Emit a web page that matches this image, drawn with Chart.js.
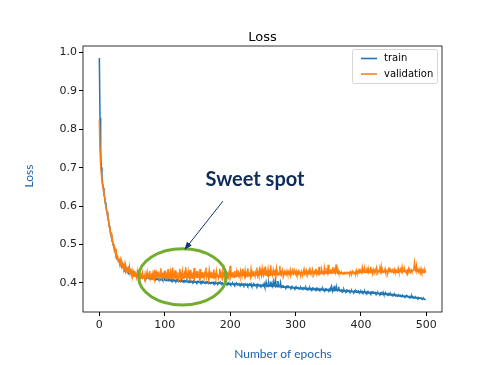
<!DOCTYPE html>
<html>
<head>
<meta charset="utf-8">
<script src="https://cdn.jsdelivr.net/npm/chart.js@4.4.1/dist/chart.umd.min.js"></script>
<style>
  body { margin: 0; background: #fff; }
  canvas { display: block; }
</style>
</head>
<body>
<canvas id="loss-chart" width="493" height="365"></canvas>
<script>
// values, one per epoch (0..499)
const trainLoss = [
  0.985,0.830,0.742,0.701,0.677,0.659,0.648,0.632,0.623,0.610,
  0.603,0.590,0.582,0.569,0.562,0.549,0.543,0.531,0.525,0.514,
  0.510,0.500,0.496,0.487,0.484,0.476,0.474,0.466,0.466,0.459,
  0.459,0.452,0.453,0.447,0.448,0.442,0.445,0.439,0.441,0.435,
  0.438,0.432,0.435,0.430,0.433,0.428,0.431,0.426,0.429,0.424,
  0.427,0.423,0.425,0.421,0.424,0.420,0.422,0.419,0.421,0.418,
  0.420,0.417,0.419,0.416,0.418,0.415,0.417,0.415,0.416,0.414,
  0.416,0.413,0.415,0.413,0.414,0.412,0.414,0.412,0.413,0.411,
  0.413,0.411,0.412,0.410,0.413,0.410,0.411,0.409,0.412,0.410,
  0.411,0.409,0.411,0.408,0.410,0.409,0.411,0.408,0.410,0.408,
  0.410,0.407,0.409,0.408,0.410,0.406,0.409,0.407,0.408,0.406,
  0.409,0.406,0.408,0.405,0.408,0.406,0.407,0.405,0.408,0.405,
  0.407,0.404,0.407,0.405,0.406,0.404,0.407,0.404,0.406,0.404,
  0.406,0.403,0.405,0.404,0.406,0.403,0.405,0.403,0.405,0.402,
  0.405,0.403,0.404,0.402,0.405,0.402,0.404,0.402,0.403,0.401,
  0.404,0.401,0.403,0.402,0.404,0.401,0.403,0.400,0.403,0.401,
  0.402,0.400,0.402,0.401,0.403,0.400,0.401,0.399,0.402,0.400,
  0.401,0.399,0.401,0.400,0.402,0.399,0.401,0.398,0.401,0.399,
  0.400,0.398,0.401,0.399,0.400,0.398,0.400,0.397,0.400,0.398,
  0.399,0.397,0.400,0.398,0.399,0.397,0.399,0.396,0.399,0.397,
  0.399,0.396,0.398,0.397,0.399,0.396,0.398,0.395,0.398,0.396,
  0.398,0.395,0.397,0.396,0.398,0.395,0.397,0.394,0.397,0.395,
  0.397,0.394,0.397,0.395,0.396,0.394,0.397,0.393,0.396,0.394,
  0.396,0.394,0.398,0.393,0.395,0.393,0.396,0.393,0.395,0.393,
  0.395,0.392,0.396,0.393,0.394,0.392,0.395,0.392,0.394,0.392,
  0.394,0.392,0.398,0.391,0.393,0.402,0.392,0.394,0.391,0.400,
  0.392,0.393,0.404,0.391,0.395,0.391,0.403,0.392,0.392,0.406,
  0.391,0.393,0.390,0.405,0.391,0.392,0.390,0.401,0.391,0.390,
  0.392,0.389,0.391,0.389,0.390,0.388,0.391,0.388,0.390,0.388,
  0.390,0.388,0.389,0.387,0.390,0.387,0.389,0.387,0.388,0.386,
  0.389,0.386,0.388,0.386,0.388,0.386,0.387,0.385,0.388,0.385,
  0.387,0.385,0.387,0.385,0.386,0.384,0.388,0.384,0.386,0.384,
  0.386,0.384,0.387,0.383,0.385,0.383,0.386,0.383,0.385,0.383,
  0.385,0.383,0.386,0.382,0.384,0.382,0.385,0.382,0.384,0.382,
  0.384,0.382,0.385,0.381,0.383,0.381,0.384,0.381,0.383,0.381,
  0.383,0.381,0.384,0.380,0.388,0.392,0.382,0.381,0.386,0.380,
  0.393,0.382,0.381,0.387,0.380,0.382,0.390,0.380,0.381,0.379,
  0.382,0.379,0.381,0.378,0.383,0.379,0.380,0.378,0.381,0.378,
  0.380,0.378,0.380,0.377,0.379,0.377,0.380,0.377,0.378,0.376,
  0.379,0.377,0.379,0.376,0.378,0.376,0.379,0.376,0.377,0.375,
  0.378,0.375,0.378,0.375,0.377,0.375,0.378,0.374,0.376,0.374,
  0.377,0.374,0.376,0.374,0.376,0.373,0.376,0.373,0.375,0.373,
  0.375,0.373,0.375,0.372,0.374,0.372,0.375,0.372,0.373,0.371,
  0.374,0.371,0.373,0.371,0.376,0.371,0.372,0.370,0.373,0.370,
  0.372,0.370,0.372,0.369,0.371,0.369,0.371,0.368,0.370,0.368,
  0.370,0.368,0.370,0.367,0.369,0.367,0.368,0.366,0.368,0.366,
  0.368,0.366,0.367,0.365,0.367,0.365,0.366,0.364,0.366,0.364,
  0.366,0.364,0.365,0.363,0.365,0.363,0.365,0.362,0.366,0.362,
  0.364,0.362,0.363,0.361,0.363,0.361,0.362,0.360,0.362,0.360,
  0.361,0.360,0.361,0.359,0.360,0.358,0.360,0.358,0.358,0.356
];

const validationLoss = [
  0.825,0.745,0.706,0.683,0.667,0.652,0.646,0.628,0.627,0.607,
  0.607,0.588,0.586,0.566,0.566,0.547,0.548,0.529,0.530,0.512,
  0.514,0.498,0.501,0.485,0.489,0.474,0.480,0.464,0.471,0.456,
  0.464,0.450,0.459,0.444,0.455,0.440,0.451,0.436,0.447,0.432,
  0.445,0.428,0.441,0.430,0.437,0.426,0.440,0.424,0.435,0.422,
  0.432,0.420,0.428,0.418,0.431,0.417,0.426,0.416,0.429,0.414,
  0.424,0.413,0.427,0.415,0.421,0.412,0.425,0.413,0.420,0.411,
  0.423,0.412,0.419,0.428,0.411,0.420,0.414,0.431,0.412,0.418,
  0.425,0.410,0.421,0.415,0.434,0.412,0.419,0.426,0.411,0.423,
  0.416,0.430,0.412,0.421,0.438,0.413,0.418,0.427,0.412,0.424,
  0.414,0.432,0.411,0.420,0.415,0.436,0.412,0.423,0.418,0.429,
  0.411,0.421,0.440,0.414,0.419,0.426,0.412,0.433,0.415,0.420,
  0.428,0.411,0.418,0.437,0.413,0.422,0.416,0.430,0.412,0.419,
  0.425,0.414,0.441,0.415,0.420,0.413,0.429,0.417,0.412,0.434,
  0.416,0.421,0.413,0.427,0.418,0.439,0.414,0.420,0.425,0.413,
  0.431,0.415,0.419,0.412,0.436,0.416,0.422,0.414,0.428,0.418,
  0.413,0.425,0.419,0.440,0.415,0.420,0.427,0.413,0.432,0.417,
  0.422,0.414,0.429,0.418,0.413,0.435,0.416,0.421,0.414,0.430,
  0.417,0.424,0.413,0.419,0.437,0.415,0.422,0.416,0.428,0.414,
  0.420,0.433,0.416,0.423,0.415,0.429,0.418,0.425,0.417,0.421,
  0.445,0.418,0.424,0.416,0.428,0.419,0.415,0.431,0.420,0.417,
  0.426,0.418,0.433,0.419,0.423,0.416,0.430,0.421,0.417,0.436,
  0.420,0.425,0.418,0.432,0.419,0.424,0.417,0.438,0.421,0.419,
  0.428,0.418,0.435,0.420,0.425,0.419,0.431,0.422,0.418,0.427,
  0.421,0.440,0.420,0.426,0.419,0.433,0.422,0.428,0.420,0.437,
  0.423,0.419,0.431,0.421,0.443,0.420,0.427,0.422,0.435,0.421,
  0.428,0.420,0.446,0.422,0.426,0.420,0.433,0.423,0.421,0.430,
  0.423,0.437,0.421,0.428,0.424,0.422,0.444,0.423,0.427,0.421,
  0.432,0.424,0.422,0.429,0.423,0.426,0.422,0.431,0.424,0.423,
  0.427,0.423,0.433,0.422,0.428,0.424,0.438,0.423,0.425,0.429,
  0.424,0.431,0.423,0.427,0.422,0.435,0.424,0.426,0.423,0.430,
  0.425,0.423,0.429,0.436,0.424,0.427,0.423,0.432,0.425,0.424,
  0.430,0.424,0.440,0.425,0.428,0.423,0.434,0.426,0.424,0.429,
  0.425,0.437,0.424,0.430,0.426,0.424,0.442,0.425,0.428,0.424,
  0.433,0.425,0.427,0.424,0.439,0.426,0.429,0.425,0.431,0.426,
  0.447,0.427,0.430,0.425,0.436,0.427,0.426,0.441,0.428,0.426,
  0.432,0.427,0.448,0.428,0.426,0.434,0.427,0.429,0.426,0.427,
  0.425,0.427,0.424,0.426,0.425,0.427,0.424,0.426,0.425,0.428,
  0.426,0.425,0.427,0.424,0.429,0.426,0.425,0.430,0.426,0.427,
  0.425,0.428,0.426,0.433,0.427,0.429,0.426,0.437,0.428,0.427,
  0.431,0.428,0.440,0.429,0.432,0.427,0.436,0.429,0.428,0.433,
  0.429,0.438,0.428,0.431,0.427,0.442,0.429,0.432,0.428,0.435,
  0.430,0.428,0.434,0.429,0.439,0.430,0.428,0.432,0.429,0.436,
  0.430,0.443,0.429,0.433,0.428,0.431,0.430,0.437,0.429,0.432,
  0.430,0.428,0.435,0.429,0.440,0.430,0.432,0.429,0.434,0.430,
  0.429,0.436,0.430,0.433,0.428,0.431,0.429,0.438,0.430,0.432,
  0.429,0.434,0.430,0.441,0.429,0.432,0.430,0.435,0.429,0.431,
  0.428,0.433,0.430,0.437,0.429,0.432,0.428,0.434,0.430,0.431,
  0.433,0.438,0.452,0.436,0.431,0.444,0.430,0.433,0.429,0.436,
  0.430,0.428,0.437,0.429,0.433,0.428,0.431,0.427,0.434,0.429
];

const epochs = trainLoss.map((v, i) => i);
const xTicks = [0, 100, 200, 300, 400, 500];
const yTicks = [0.4, 0.5, 0.6, 0.7, 0.8, 0.9, 1.0];

const tickFont = { family: 'DejaVu Sans', size: 11 };

// title, frame, legend and the slide annotations
const overlay = {
    id: 'overlay',
    afterDraw(chart) {
        const { ctx, chartArea: a, scales: { x, y } } = chart;
        ctx.save();

        ctx.strokeStyle = '#000';
        ctx.lineWidth = 0.8;
        ctx.strokeRect(a.left, a.top, a.right - a.left, a.bottom - a.top);

        ctx.fillStyle = '#000';
        ctx.font = '13px "DejaVu Sans"';
        ctx.textAlign = 'center';
        ctx.textBaseline = 'alphabetic';
        ctx.fillText('Loss', (a.left + a.right) / 2, a.top - 5);

        // legend
        ctx.beginPath();
        ctx.roundRect(352.5, 49.5, 85, 34, 2);
        ctx.fillStyle = 'rgba(255,255,255,0.8)';
        ctx.fill();
        ctx.strokeStyle = '#d6d6d6';
        ctx.lineWidth = 1;
        ctx.stroke();
        const items = [['train', '#1f77b4', 58.5], ['validation', '#ff7f0e', 74]];
        ctx.font = '10px "DejaVu Sans"';
        ctx.textAlign = 'left';
        ctx.textBaseline = 'middle';
        items.forEach(([label, color, yy]) => {
            ctx.strokeStyle = color;
            ctx.lineWidth = 1.6;
            ctx.beginPath();
            ctx.moveTo(361, yy);
            ctx.lineTo(377, yy);
            ctx.stroke();
            ctx.fillStyle = '#000';
            ctx.fillText(label, 384, yy);
        });

        // axis titles (slide text)
        ctx.fillStyle = '#2262a8';
        ctx.font = '12px Lato';
        ctx.textAlign = 'center';
        ctx.fillText('Number of epochs', 283, 354);
        ctx.save();
        ctx.translate(29, 176);
        ctx.rotate(-Math.PI / 2);
        ctx.fillText('Loss', 0, 0);
        ctx.restore();

        // sweet spot ellipse
        ctx.strokeStyle = '#72ad2f';
        ctx.lineWidth = 3;
        ctx.beginPath();
        ctx.ellipse(x.getPixelForValue(127), y.getPixelForValue(0.416),
            Math.abs(x.getPixelForValue(67) - x.getPixelForValue(0)),
            Math.abs(y.getPixelForValue(0.073) - y.getPixelForValue(0)), 0, 0, Math.PI * 2);
        ctx.stroke();

        // arrow
        const x1 = x.getPixelForValue(189), y1 = y.getPixelForValue(0.613);
        const x2 = x.getPixelForValue(130), y2 = y.getPixelForValue(0.486);
        const ang = Math.atan2(y2 - y1, x2 - x1);
        ctx.strokeStyle = '#17346a';
        ctx.fillStyle = '#17346a';
        ctx.lineWidth = 1;
        ctx.beginPath();
        ctx.moveTo(x1, y1);
        ctx.lineTo(x2 - 5 * Math.cos(ang), y2 - 5 * Math.sin(ang));
        ctx.stroke();
        ctx.beginPath();
        ctx.moveTo(x2, y2);
        ctx.lineTo(x2 - 8 * Math.cos(ang) + 3 * Math.sin(ang), y2 - 8 * Math.sin(ang) - 3 * Math.cos(ang));
        ctx.lineTo(x2 - 8 * Math.cos(ang) - 3 * Math.sin(ang), y2 - 8 * Math.sin(ang) + 3 * Math.cos(ang));
        ctx.closePath();
        ctx.fill();

        ctx.fillStyle = '#0d2c5a';
        ctx.font = 'bold 20px Lato';
        ctx.textAlign = 'center';
        ctx.textBaseline = 'middle';
        ctx.fillText('Sweet spot', x.getPixelForValue(238), y.getPixelForValue(0.67));

        ctx.restore();
    }
};

const ctx = document.getElementById('loss-chart').getContext('2d');
window.lossChart = new Chart(ctx, {
    type: 'line',
    data: {
        datasets: [{
            label: 'train',
            data: epochs.map((e, i) => ({ x: e, y: trainLoss[i] })),
            borderColor: '#1f77b4',
            borderWidth: 1.5,
            order: 1
        }, {
            label: 'validation',
            data: epochs.map((e, i) => ({ x: e, y: validationLoss[i] })),
            borderColor: '#ff7f0e',
            borderWidth: 1.5,
            order: 0
        }]
    },
    options: {
        responsive: false,
        animation: false,
        events: [],
        layout: { padding: { left: 0, top: 46, right: 51, bottom: 0 } },
        elements: { point: { radius: 0 }, line: { tension: 0 } },
        plugins: { legend: { display: false }, tooltip: { enabled: false } },
        scales: {
            x: {
                type: 'linear',
                min: -25,
                max: 524,
                afterBuildTicks: s => { s.ticks = xTicks.map(v => ({ value: v })); },
                afterFit: s => { s.height = 53; },
                border: { display: false },
                grid: { drawOnChartArea: false, drawTicks: true, tickLength: 4, tickColor: '#000' },
                ticks: { font: tickFont, color: '#222', padding: 3, maxRotation: 0 }
            },
            y: {
                type: 'linear',
                min: 0.3245,
                max: 1.0165,
                afterBuildTicks: s => { s.ticks = yTicks.map(v => ({ value: v })); },
                afterFit: s => { s.width = 83; },
                border: { display: false },
                grid: { drawOnChartArea: false, drawTicks: true, tickLength: 4, tickColor: '#000' },
                ticks: { font: tickFont, color: '#222', padding: 2, callback: v => v.toFixed(1) }
            }
        }
    },
    plugins: [overlay]
});
</script>
</body>
</html>
